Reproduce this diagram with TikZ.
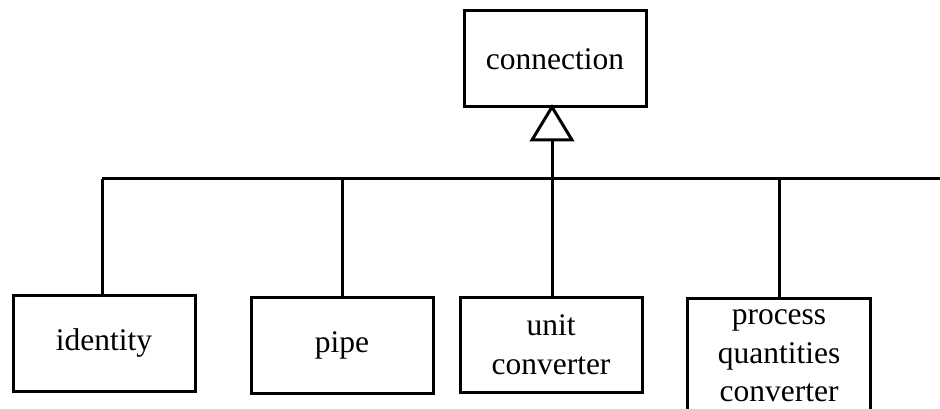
\documentclass[tikz,border=0pt]{standalone}
\usepackage{fontspec}
\setmainfont{Liberation Serif}
\usetikzlibrary{calc}
\begin{document}
\begin{tikzpicture}[x=1pt,y=1pt,
  every node/.style={font=\fontsize{31.5}{38.5}\selectfont},
  cbox/.style={draw, line width=3pt, inner sep=0pt, align=center},
  conn/.style={line width=3pt}]
\useasboundingbox (0,0) rectangle (940,-409);
\clip (0,0) rectangle (940,-409);
\node[cbox, minimum width=182pt, minimum height=96pt] (c) at (555,-59) {connection};
\node[cbox, minimum width=182pt, minimum height=96pt] (id) at (104,-343) {identity};
\node[cbox, minimum width=182pt, minimum height=96pt] (pipe) at (342,-345) {pipe};
\node[cbox, minimum width=182pt, minimum height=95pt] (unit) at (551,-344.5) {unit\\converter};
\node[cbox, minimum width=183pt, minimum height=116pt] (pq) at (779,-356) {process\\quantities\\converter};
\coordinate (apex) at (552,-107);
\coordinate (busL) at (102,-179);
\coordinate (busR) at (940,-179);
\coordinate (tb) at ($(apex)+(0,-33)$);
\draw[conn] (busL) -- (busR);
\draw[conn, line join=miter] (apex) -- ++(-20,-33) -- ++(40,0) -- cycle;
\draw[conn] (tb) -- (tb |- unit.north);
\draw[conn] (id.north -| busL) -- (busL);
\draw[conn] (pipe.north) -- (pipe.north |- busL);
\draw[conn] (pq.north) -- (pq.north |- busL);
\end{tikzpicture}
\end{document}
